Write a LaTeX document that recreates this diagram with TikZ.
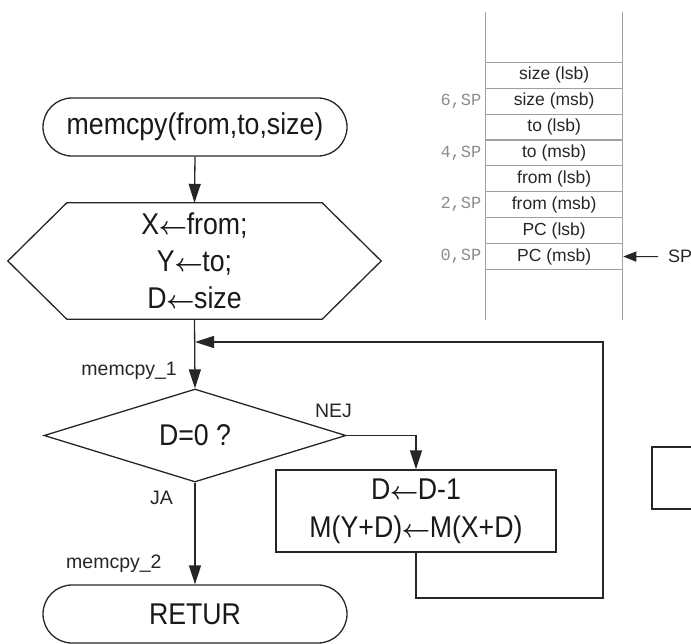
\documentclass[tikz,border=0pt]{standalone}
\usepackage{fontspec}
\setmainfont{Liberation Sans}
\newfontfamily\narrowsf{Liberation Sans}[FakeStretch=0.89]
\setmonofont{Liberation Mono}
\usetikzlibrary{arrows.meta,shapes.geometric}
\newcommand{\assignarrow}{\kern-0.5pt{\boldmath$\leftarrow$}\kern-0.5pt}

\begin{document}
\begin{tikzpicture}[x=1pt,y=-1pt,
  flow/.style={draw=black!85,line width=1.3pt},
  arr/.style={flow,-{Triangle[length=19pt,width=12pt]}},
  bigtxt/.style={font=\narrowsf\fontsize{30}{37}\selectfont,text=black!90},
  lbl/.style={font=\fontsize{19.5}{22}\selectfont,text=black!85,inner sep=0pt},
  term/.style={flow,rounded corners=29pt,minimum width=304pt,minimum height=58pt,inner sep=0pt,bigtxt},
  stackline/.style={draw=gray!75,line width=1.1pt},
  cell/.style={stackline,minimum width=137.1pt,minimum height=25.9pt,inner sep=0pt,
    font=\fontsize{17.5}{20}\selectfont,text=black!85},
  offs/.style={font=\ttfamily\fontsize{17}{20}\selectfont,text=gray!90,inner sep=0pt,anchor=east},
  sparr/.style={draw=black!85,line width=1pt,-{Triangle[length=13pt,width=10pt]}}
]
\clip (0,0) rectangle (691,643);

% ---------- stack ----------
\foreach \t [count=\i] in {size (lsb),size (msb),to (lsb),to (msb),from (lsb),from (msb),PC (lsb),PC (msb)}
  \node[cell] (r\i) at (554.15,{62.3+25.9*(\i-0.5)}) {\t};
\draw[stackline] (485.6,12) -- (485.6,320);
\draw[stackline] (622.7,12) -- (622.7,320);
\node[offs] (o6) at ([xshift=-3.5pt]r2.west) {6,SP};
\node[offs] (o4) at ([xshift=-3.5pt]r4.west) {4,SP};
\node[offs] (o2) at ([xshift=-3.5pt]r6.west) {2,SP};
\node[offs] (o0) at ([xshift=-3.5pt]r8.west) {0,SP};
\node[lbl,anchor=west,font=\fontsize{18}{20}\selectfont] (sp) at (668,256.6) {SP};
\draw[sparr,shorten <=10pt] (sp.west) -- (r8.east);

% ---------- flowchart ----------
\node[term] (start) at (195,127) {memcpy(from,to,size)};

\node[minimum width=373pt,minimum height=116pt,inner sep=0pt,bigtxt,align=center] (hex) at (194.5,261)
  {X\assignarrow from;\\Y\assignarrow to;\\D\assignarrow size};
\draw[flow] ([xshift=59pt]hex.north west) -- ([xshift=-59pt]hex.north east) -- (hex.east)
  -- ([xshift=-59pt]hex.south east) -- ([xshift=59pt]hex.south west) -- (hex.west) -- cycle;

\node[diamond,flow,aspect=3.25,minimum width=302pt,minimum height=93pt,inner sep=0pt,bigtxt] (dia) at (195,435.5) {D=0 ?};

\node[flow,minimum width=280pt,minimum height=82pt,inner sep=0pt,bigtxt,align=center,
  font=\narrowsf\fontsize{30}{38}\selectfont] (box) at (416,511) {D\assignarrow D-1\\M(Y+D)\assignarrow M(X+D)};

\node[term] (ret) at (195,614) {RETUR};

\node[lbl,anchor=east] (l1) at (177,370.7) {memcpy\_1};
\node[lbl,anchor=west] (l2) at (66,564) {memcpy\_2};
\node[lbl] (ja) at (161.5,497.7) {JA};
\node[lbl] (nej) at (333.5,411) {NEJ};

\coordinate (lb) at (603,598);
\coordinate (m1) at (195,342);

\draw[arr] (start.south) -- (hex.north);
\draw[arr] (hex.south) -- (dia.north);
\draw[arr] (dia.east) -| (box.north);
\draw[arr] (dia.south) -- (ret.north);
\draw[arr] (box.south) |- (lb) |- (m1);

% partial box at right edge
\draw[flow] (700,447) -- (652,447) -- (652,509) -- (700,509);
\end{tikzpicture}
\end{document}
